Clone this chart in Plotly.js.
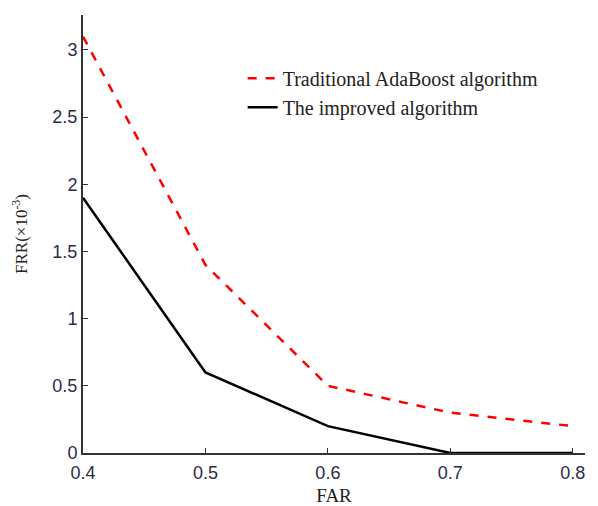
<!DOCTYPE html>
<html><head><meta charset="utf-8">
<script src="https://cdn.plot.ly/plotly-3.0.1.min.js"></script>
<style>body{margin:0;background:#fff}#c{width:598px;height:506px}</style>
</head><body><div id="c"></div>
<script>
const far = [0.4, 0.5, 0.6, 0.7, 0.8];
const frrTraditional = [3.1, 1.4, 0.5, 0.3, 0.2];
const frrImproved = [1.9, 0.6, 0.2, 0.0, 0.0];
const xTicks = [0.4, 0.5, 0.6, 0.7, 0.8];
const xTickText = ['0.4', '0.5', '0.6', '0.7', '0.8'];
const yTicks = [0, 0.5, 1, 1.5, 2, 2.5, 3];
const yTickText = ['0', '0.5', '1', '1.5', '2', '2.5', '3'];

const traces = [
  {x: far, y: frrTraditional, mode: 'lines', name: 'Traditional AdaBoost algorithm',
   line: {color: '#ff0000', width: 2.5, dash: 'dash'}},
  {x: far, y: frrImproved, mode: 'lines', name: 'The improved algorithm',
   line: {color: '#000000', width: 2.5}}
];
const tickFont = {family: 'Liberation Sans, Arial, sans-serif', size: 18, color: '#2b2b4a'};
const serif = 'Liberation Serif, Times New Roman, serif';
const layout = {
  width: 598, height: 506,
  margin: {l: 83, r: 13, t: 15, b: 53},
  paper_bgcolor: '#fff', plot_bgcolor: '#fff',
  showlegend: true,
  legend: {x: 0.318, y: 0.9, xanchor: 'left', yanchor: 'top', bgcolor: 'rgba(0,0,0,0)',
    font: {family: serif, size: 20, color: '#222'},
    tracegroupgap: 0, itemwidth: 30},
  xaxis: {range: [0.4, 0.81], tickvals: xTicks, ticktext: xTickText, showgrid: false, zeroline: false,
    showline: true, linecolor: '#333', linewidth: 2, ticks: 'inside', ticklen: 5, tickcolor: '#333',
    tickfont: tickFont, ticklabelstandoff: 2,
    title: {text: 'FAR', font: {family: serif, size: 19, color: '#222'}, standoff: 11}},
  yaxis: {range: [0, 3.26], tickvals: yTicks, ticktext: yTickText, showgrid: false, zeroline: false,
    showline: true, linecolor: '#333', linewidth: 2, ticks: 'inside', ticklen: 5, tickcolor: '#333',
    tickfont: tickFont,
    title: {text: 'FRR(\u00d710<sup>-3</sup>)', font: {family: serif, size: 17, color: '#222'}, standoff: 20}}
};
Plotly.newPlot('c', traces, layout, {staticPlot: true});
</script></body></html>
